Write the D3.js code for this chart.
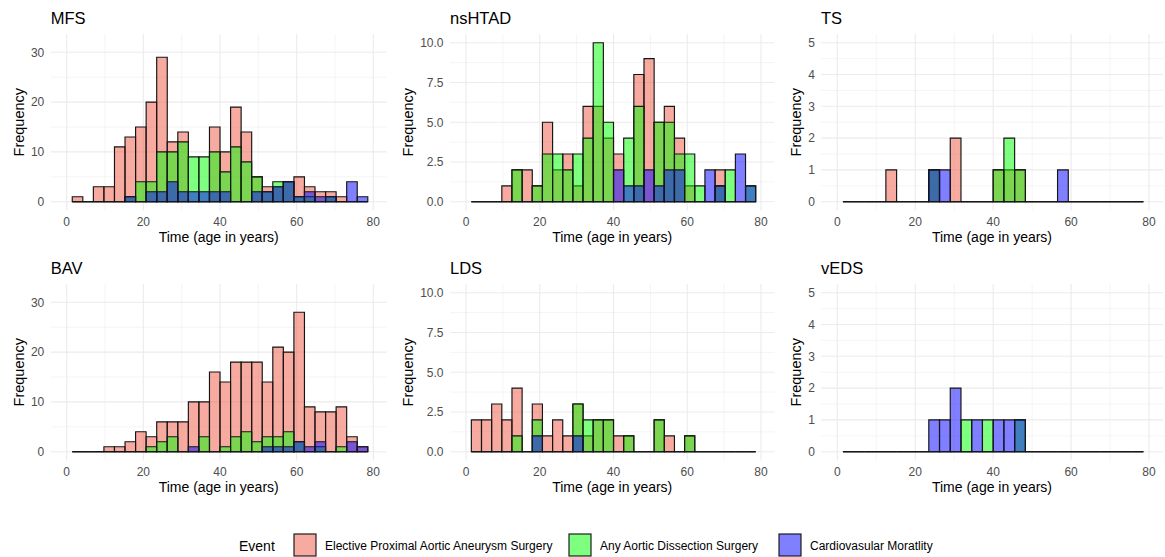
<!DOCTYPE html>
<html><head><meta charset="utf-8">
<script src="https://cdn.jsdelivr.net/npm/d3@7"></script>
<style>
body{margin:0;background:#fff}
text{font-family:"Liberation Sans",Arial,Helvetica,sans-serif}
</style>
</head><body>
<svg id="chart" width="1165" height="557"></svg>
<script>
// ---------------- DATA ----------------
const events = ["Elective Proximal Aortic Aneurysm Surgery", "Any Aortic Dissection Surgery", "Cardiovasular Moratlity"];
const eventColors = ["#EE5642", "#00FF00", "#0000FF"];
const binStart = 1.45, binWidth = 2.754, nBins = 28;

const xTicks = [0, 20, 40, 60, 80];
const xMinor = [10, 30, 50, 70];
const yTicks30 = [0, 10, 20, 30];
const yLabels30 = ["0", "10", "20", "30"];
const yMinor30 = [5, 15, 25];
const yTicks10 = [0, 2.5, 5, 7.5, 10];
const yLabels10 = ["0.0", "2.5", "5.0", "7.5", "10.0"];
const yMinor10 = [1.25, 3.75, 6.25, 8.75];
const yTicks5 = [0, 1, 2, 3, 4, 5];
const yLabels5 = ["0", "1", "2", "3", "4", "5"];
const yMinor5 = [0.5, 1.5, 2.5, 3.5, 4.5];

const MFS_elective   = [1,0,3,3,11,13,15,20,29,12,14,0,0,15,10,19,14,5,3,3,4,5,3,2,2,1,0,0];
const MFS_dissection = [0,0,0,0,0,1,4,4,10,10,12,9,9,10,6,11,8,5,2,4,4,1,1,0,1,0,0,0];
const MFS_mortality  = [0,0,0,0,0,1,0,2,2,4,2,2,2,2,2,0,0,2,2,3,4,1,2,1,1,0,4,1];

const nsHTAD_elective   = [0,0,0,1,2,2,1,5,2,3,1,6,6,4,3,0,8,9,5,6,4,1,0,0,2,0,0,0];
const nsHTAD_dissection = [0,0,0,0,2,0,1,3,3,2,3,4,10,5,0,4,6,0,5,5,3,3,1,0,1,2,0,1];
const nsHTAD_mortality  = [0,0,0,0,0,0,0,0,0,0,0,0,0,0,2,1,1,2,1,2,2,0,0,2,1,0,3,1];

const TS_elective   = [0,0,0,0,1,0,0,0,1,0,2,0,0,0,1,1,1,0,0,0,0,0,0,0,0,0,0,0];
const TS_dissection = [0,0,0,0,0,0,0,0,1,0,0,0,0,0,1,2,1,0,0,0,0,0,0,0,0,0,0,0];
const TS_mortality  = [0,0,0,0,0,0,0,0,1,1,0,0,0,0,0,0,0,0,0,0,1,0,0,0,0,0,0,0];

const BAV_elective   = [0,0,0,1,1,2,4,3,6,6,6,10,10,16,14,18,18,18,14,21,20,28,9,8,8,9,3,1];
const BAV_dissection = [0,0,0,0,0,0,0,1,2,3,0,0,3,0,1,3,4,2,3,3,4,2,0,1,0,1,0,0];
const BAV_mortality  = [0,0,0,0,0,0,0,0,0,0,0,1,0,0,0,0,0,0,1,1,1,2,1,2,0,0,2,1];

const LDS_elective   = [2,2,3,2,4,0,3,1,2,1,3,1,2,2,1,1,0,0,2,1,0,1,0,0,0,0,0,0];
const LDS_dissection = [0,0,0,0,1,0,2,0,0,0,3,2,2,2,0,1,0,0,2,0,0,1,0,0,0,0,0,0];
const LDS_mortality  = [0,0,0,0,0,0,1,0,0,0,1,0,0,0,0,0,0,0,0,0,0,0,0,0,0,0,0,0];

const vEDS_elective   = [0,0,0,0,0,0,0,0,0,0,0,0,0,0,0,0,0,0,0,0,0,0,0,0,0,0,0,0];
const vEDS_dissection = [0,0,0,0,0,0,0,0,0,0,0,1,0,1,0,0,1,0,0,0,0,0,0,0,0,0,0,0];
const vEDS_mortality  = [0,0,0,0,0,0,0,0,1,1,2,0,1,0,1,1,1,0,0,0,0,0,0,0,0,0,0,0];

// ---------------- LAYOUT ----------------
const cols = [
  {left: 50.7, right: 386.7, x0: 66.7, x80: 373.3, labelRight: 44.3, freqX: 23.5},
  {left: 450,  right: 774.5, x0: 466,  x80: 761,   labelRight: 443.5, freqX: 412.5},
  {left: 821,  right: 1163,  x0: 837.3, x80: 1149, labelRight: 815,  freqX: 800.5}
];
const rows = [
  {top: 34, bottom: 210.4, y0: 201.7, titleY: 23.5, xtickY: 225.8, xtitleY: 241.5},
  {top: 284, bottom: 460.4, y0: 451.7, titleY: 273.5, xtickY: 475.8, xtitleY: 491.5}
];

const panels = [
  {name: "MFS",    r: 0, c: 0, series: [MFS_elective, MFS_dissection, MFS_mortality], yMax: 30, ySpan: 149.4, ticks: yTicks30, labels: yLabels30, minor: yMinor30},
  {name: "nsHTAD", r: 0, c: 1, series: [nsHTAD_elective, nsHTAD_dissection, nsHTAD_mortality], yMax: 10, ySpan: 159, ticks: yTicks10, labels: yLabels10, minor: yMinor10},
  {name: "TS",     r: 0, c: 2, series: [TS_elective, TS_dissection, TS_mortality], yMax: 5, ySpan: 159, ticks: yTicks5, labels: yLabels5, minor: yMinor5},
  {name: "BAV",    r: 1, c: 0, series: [BAV_elective, BAV_dissection, BAV_mortality], yMax: 30, ySpan: 149.4, ticks: yTicks30, labels: yLabels30, minor: yMinor30},
  {name: "LDS",    r: 1, c: 1, series: [LDS_elective, LDS_dissection, LDS_mortality], yMax: 10, ySpan: 159, ticks: yTicks10, labels: yLabels10, minor: yMinor10},
  {name: "vEDS",   r: 1, c: 2, series: [vEDS_elective, vEDS_dissection, vEDS_mortality], yMax: 5, ySpan: 159, ticks: yTicks5, labels: yLabels5, minor: yMinor5}
];

const svg = d3.select("#chart");
const gridColor = "#EBEBEB";
const tickColor = "#4D4D4D";
const binEdges = d3.range(nBins + 1).map(i => binStart + i * binWidth);

panels.forEach(p => {
  const col = cols[p.c], row = rows[p.r];
  const x = d3.scaleLinear().domain([0, 80]).range([col.x0, col.x80]);
  const y = d3.scaleLinear().domain([0, p.yMax]).range([row.y0, row.y0 - p.ySpan]);
  const g = svg.append("g");

  // minor grid
  g.selectAll(".ymin").data(p.minor).enter().append("line")
    .attr("x1", col.left).attr("x2", col.right)
    .attr("y1", d => y(d)).attr("y2", d => y(d))
    .attr("stroke", gridColor).attr("stroke-width", 0.55);
  g.selectAll(".xmin").data(xMinor).enter().append("line")
    .attr("x1", d => x(d)).attr("x2", d => x(d))
    .attr("y1", row.top).attr("y2", row.bottom)
    .attr("stroke", gridColor).attr("stroke-width", 0.55);
  // major grid
  g.selectAll(".ymaj").data(p.ticks).enter().append("line")
    .attr("x1", col.left).attr("x2", col.right)
    .attr("y1", d => y(d)).attr("y2", d => y(d))
    .attr("stroke", gridColor).attr("stroke-width", 1.1);
  g.selectAll(".xmaj").data(xTicks).enter().append("line")
    .attr("x1", d => x(d)).attr("x2", d => x(d))
    .attr("y1", row.top).attr("y2", row.bottom)
    .attr("stroke", gridColor).attr("stroke-width", 1.1);

  // bars (identity position, drawn in event order with alpha)
  p.series.forEach((counts, k) => {
    g.append("g").selectAll("path").data(counts).enter().append("path")
      .attr("d", (d, i) => {
        const x1 = x(binEdges[i]), x2 = x(binEdges[i + 1]);
        const yb = y(0), yt = y(d);
        return `M${x1},${yb}H${x2}V${yt}H${x1}Z`;
      })
      .attr("fill", eventColors[k]).attr("fill-opacity", 0.5)
      .attr("stroke", "#151515").attr("stroke-width", 1.15)
      .attr("stroke-linejoin", "miter");
  });

  // y tick labels
  g.selectAll(".ylab").data(p.ticks).enter().append("text")
    .attr("x", col.labelRight).attr("y", d => y(d)).attr("dy", "0.36em")
    .attr("text-anchor", "end").attr("font-size", 12).attr("fill", tickColor)
    .text((d, i) => p.labels[i]);
  // x tick labels
  g.selectAll(".xlab").data(xTicks).enter().append("text")
    .attr("x", d => x(d)).attr("y", row.xtickY)
    .attr("text-anchor", "middle").attr("font-size", 12).attr("fill", tickColor)
    .text(d => d);
  // axis titles
  g.append("text").attr("x", (col.left + col.right) / 2).attr("y", row.xtitleY)
    .attr("text-anchor", "middle").attr("font-size", 14).attr("fill", "#000")
    .text("Time (age in years)");
  g.append("text")
    .attr("transform", `translate(${col.freqX},${(row.top + row.bottom) / 2}) rotate(-90)`)
    .attr("text-anchor", "middle").attr("font-size", 14.5).attr("fill", "#000")
    .text("Frequency");
  // panel title
  g.append("text").attr("x", col.left).attr("y", row.titleY)
    .attr("font-size", 16.5).attr("fill", "#000").text(p.name);
});

// ---------------- LEGEND ----------------
const legendBoxX = [294, 569, 779];
const legendTextX = [325, 600, 810];
const lg = svg.append("g");
lg.append("text").attr("x", 239).attr("y", 550.5).attr("font-size", 14).attr("fill", "#000").text("Event");
lg.selectAll("rect").data(events).enter().append("rect")
  .attr("x", (d, i) => legendBoxX[i]).attr("y", 534).attr("width", 22).attr("height", 22)
  .attr("fill", (d, i) => eventColors[i]).attr("fill-opacity", 0.5)
  .attr("stroke", "#151515").attr("stroke-width", 1.15);
lg.selectAll(".lt").data(events).enter().append("text")
  .attr("x", (d, i) => legendTextX[i]).attr("y", 549.5)
  .attr("font-size", 12).attr("fill", "#000").text(d => d);
</script>
</body></html>
